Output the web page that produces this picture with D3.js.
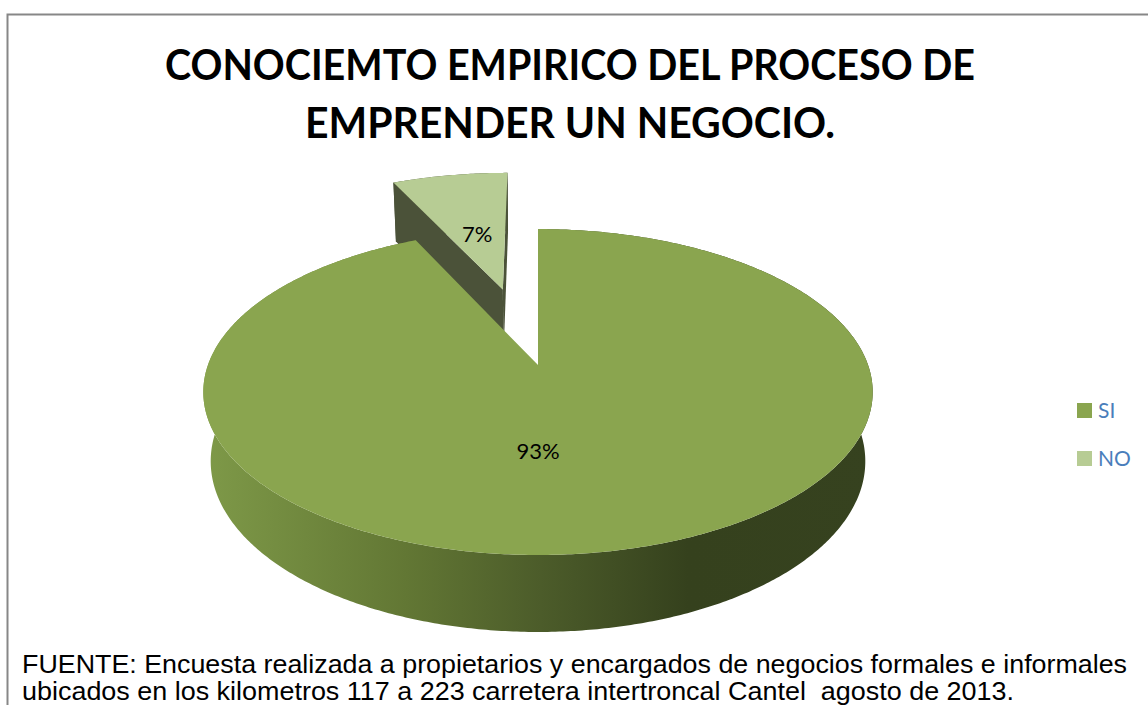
<!DOCTYPE html>
<html>
<head>
<meta charset="utf-8">
<script src="https://cdn.jsdelivr.net/npm/d3@7"></script>
<style>
  body { margin: 0; background: #fff; }
  svg { display: block; }
  .note { white-space: pre; }
</style>
</head>
<body>
<svg id="chart"></svg>
<script>
// chart data
const categories = ["SI", "NO"]
const values = [93, 7]
const pctLabels = ["93%", "7%"]
const topColors = ["#8aa54f", "#b7cc94"]
const faceColors = ["#3f4c24", "#4b5239"]
const explodeBy = [0, 0.53]   // radial offset, in pie radii

const titleLines = ["CONOCIEMTO EMPIRICO DEL PROCESO DE", "EMPRENDER UN NEGOCIO."]
const sourceLines = [
  "FUENTE: Encuesta realizada a propietarios y encargados de negocios formales e informales",
  "ubicados en los kilometros 117 a 223 carretera intertroncal Cantel  agosto de 2013."
]

const width = 1148
const height = 705

// fake 3D camera (perspective), pie radius = 1
const cam = {
  cx: 538, cy: 365,
  tilt: 28.7 * Math.PI / 180,
  dist: 5.29,
  focal: 1746,
  depth: 0.242
}
const cosT = Math.cos(cam.tilt)
const sinT = Math.sin(cam.tilt)

function project(p) {
  // p = [x, y(far), z(up)]
  let d = cam.dist + p[1] * cosT - p[2] * sinT
  return [cam.cx + cam.focal * p[0] / d,
          cam.cy - cam.focal * (p[1] * sinT + p[2] * cosT) / d]
}

function rimPoint(a, r, z, off) {
  return [off[0] + r * Math.sin(a), off[1] + r * Math.cos(a), z]
}

function arcPoints(a0, a1, z, off) {
  let n = Math.max(4, Math.ceil(Math.abs(a1 - a0) / 0.01))
  return d3.range(n + 1).map(i => project(rimPoint(a0 + (a1 - a0) * i / n, 1, z, off)))
}

const svg = d3.select("#chart")
  .attr("width", width)
  .attr("height", height)

// outer frame
svg.append("rect")
  .attr("x", 7.5).attr("y", 14.5)
  .attr("width", 1160).attr("height", 720)
  .attr("fill", "none")
  .attr("stroke", "#878787")
  .attr("stroke-width", 2)

// title
svg.append("g")
  .selectAll("text")
  .data(titleLines)
  .enter()
  .append("text")
  .attr("x", 570)
  .attr("y", (d, i) => 80 + i * 58)
  .attr("text-anchor", "middle")
  .attr("font-family", "Lato, 'Open Sans', sans-serif")
  .attr("font-weight", "bold")
  .attr("font-size", 42)
  .attr("textLength", (d, i) => i == 0 ? 810 : 530)
  .attr("lengthAdjust", "spacingAndGlyphs")
  .text(d => d)

// gradient for the side wall
const defs = svg.append("defs")
const grad = defs.append("linearGradient")
  .attr("id", "wallGrad")
  .attr("gradientUnits", "userSpaceOnUse")
  .attr("x1", 205).attr("x2", 876)
  .attr("y1", 0).attr("y2", 0)
grad.selectAll("stop")
  .data([[0, "#7e9948"], [0.3, "#627734"], [0.5, "#4c5c2a"], [0.72, "#35411d"], [1, "#36421f"]])
  .enter()
  .append("stop")
  .attr("offset", d => d[0])
  .attr("stop-color", d => d[1])

const pie = d3.pie().sort(null).value(d => d)
const arcs = pie(values)

const line = d3.line()
const camPos = [0, -cam.dist * cosT, cam.dist * sinT]

arcs.forEach((d, i) => {
  let mid = (d.startAngle + d.endAngle) / 2
  d.off = [explodeBy[i] * Math.sin(mid), explodeBy[i] * Math.cos(mid)]
  d.mid = mid
  d.idx = i
})

// far (exploded) slice first, front slice last
const order = arcs.slice().sort((a, b) => b.off[1] - a.off[1])

const pieG = svg.append("g")

order.forEach(d => {
  let g = pieG.append("g").attr("class", "slice " + categories[d.idx])
  let zt = 0, zb = -cam.depth

  // outer wall
  let wall = arcPoints(d.startAngle, d.endAngle, zt, d.off)
    .concat(arcPoints(d.endAngle, d.startAngle, zb, d.off))
  g.append("path")
    .attr("d", line(wall) + "Z")
    .attr("fill", d.idx == 0 ? "url(#wallGrad)" : faceColors[d.idx])

  // radial faces, only where they face the camera
  ;[[d.startAngle, -1], [d.endAngle, 1]].forEach(f => {
    let a = f[0]
    let n = [f[1] * Math.cos(a), -f[1] * Math.sin(a)]
    let dot = n[0] * (camPos[0] - d.off[0]) + n[1] * (camPos[1] - d.off[1])
    if (dot <= 0.01) return
    let quad = [
      project([d.off[0], d.off[1], zt]),
      project(rimPoint(a, 1, zt, d.off)),
      project(rimPoint(a, 1, zb, d.off)),
      project([d.off[0], d.off[1], zb])
    ]
    g.append("path")
      .attr("d", line(quad) + "Z")
      .attr("fill", faceColors[d.idx])
  })

  // top face
  let top = [project([d.off[0], d.off[1], zt])]
    .concat(arcPoints(d.startAngle, d.endAngle, zt, d.off))
  g.append("path")
    .attr("d", line(top) + "Z")
    .attr("fill", topColors[d.idx])
})

// percentage labels
function labelPos(d) {
  // big slice holding the front: put the label toward the front
  if (d.startAngle < Math.PI && d.endAngle > Math.PI) {
    return project(rimPoint(Math.PI, 0.5, 0, d.off))
  }
  return project(rimPoint(d.mid, 0.45, 0, d.off))
}

svg.append("g")
  .selectAll("text")
  .data(arcs)
  .enter()
  .append("text")
  .attr("x", d => labelPos(d)[0])
  .attr("y", d => labelPos(d)[1] + 8)
  .attr("text-anchor", "middle")
  .attr("font-family", "Lato, 'Open Sans', sans-serif")
  .attr("font-size", 22)
  .attr("fill", "#000")
  .text(d => pctLabels[d.idx])

// legend
const legendY = d3.scalePoint()
  .domain(categories)
  .range([410.5, 458.5])

const legend = svg.append("g")
  .selectAll("g")
  .data(categories)
  .enter()
  .append("g")
  .attr("transform", d => "translate(1077," + legendY(d) + ")")

legend.append("rect")
  .attr("x", 0).attr("y", -7.5)
  .attr("width", 15).attr("height", 15)
  .attr("fill", (d, i) => topColors[i])

legend.append("text")
  .attr("x", 21)
  .attr("y", 7.5)
  .attr("font-family", "Lato, 'Open Sans', sans-serif")
  .attr("font-size", 21)
  .attr("fill", "#4a7ebb")
  .text(d => d)

// source note
svg.append("g")
  .selectAll("text")
  .data(sourceLines)
  .enter()
  .append("text")
  .attr("class", "note")
  .attr("x", 22)
  .attr("y", (d, i) => 673 + i * 27)
  .attr("font-family", "'Liberation Sans', Arial, sans-serif")
  .attr("font-size", 25)
  .attr("textLength", (d, i) => i == 0 ? 1105 : 992)
  .attr("lengthAdjust", "spacingAndGlyphs")
  .attr("fill", "#000")
  .text(d => d)
</script>
</body>
</html>
